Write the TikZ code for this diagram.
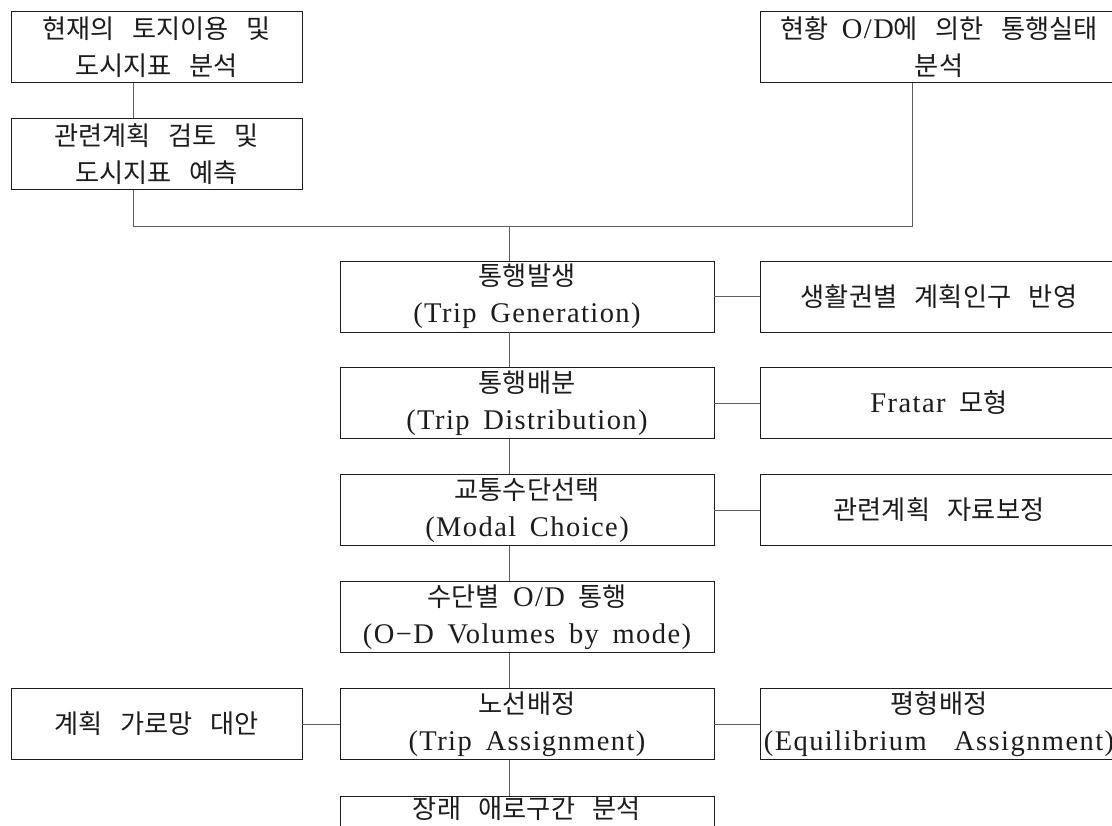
\documentclass[tikz,border=0pt]{standalone}
\usepackage{fontspec}
\setmainfont{Liberation Serif}[LetterSpace=5,WordSpace=1.6]
\newfontfamily\kr{Noto Sans CJK KR}[Scale=0.92,WordSpace=3]
\newcommand\kor[1]{{\kr #1}}
\usetikzlibrary{positioning}
\definecolor{linkgray}{HTML}{5E5E5E}
\definecolor{inkblack}{HTML}{1C1C1C}
\tikzset{
  stage/.style={draw=inkblack,line width=0.9pt,minimum width=374pt,minimum height=71pt,
    inner sep=0pt,align=center,text=inkblack,font=\fontsize{28.5}{37}\selectfont},
  sidebox/.style={stage,minimum width=358pt},
  inbox/.style={stage,minimum width=291pt},
  link/.style={draw=linkgray,line width=0.9pt}
}

\begin{document}
\begin{tikzpicture}[x=1pt,y=-1pt]
\useasboundingbox (0,0) rectangle (1112,826);
% ---------- inputs ----------
\node[inbox] (landuse) at (156.5,47) {\kor{현재의 토지이용 및}\\\kor{도시지표 분석}};
\node[inbox] (plans) at (156.5,154) {\kor{관련계획 검토 및}\\\kor{도시지표 예측}};
\node[sidebox] (survey) at (939,47) {\kor{현황} O/D\kor{에 의한 통행실태}\\\kor{분석}};
\coordinate (lefttap) at (133,226);
\coordinate (trunk) at (509,226);
\coordinate (righttap) at (912,226);
% ---------- four-step model ----------
\node[stage] (gen) at (527,296.5) {\kor{통행발생}\\(Trip Generation)};
\node[stage] (dist) at (527,403) {\kor{통행배분}\\(Trip Distribution)};
\node[stage] (modal) at (527,510) {\kor{교통수단선택}\\(Modal Choice)};
\node[stage] (odvol) at (527,617) {\kor{수단별} O/D \kor{통행}\\(O−D Volumes by mode)};
\node[stage] (assign) at (527,724) {\kor{노선배정}\\(Trip Assignment)};
\node[stage] (future) at (527,831.5) {\kor{장래 애로구간 분석}\\\strut};
% ---------- side conditions ----------
\node[sidebox] (popul) at (939,296.5) {\kor{생활권별 계획인구 반영}};
\node[sidebox] (fratar) at (939,403) {Fratar \kor{모형}};
\node[sidebox] (calib) at (939,510) {\kor{관련계획 자료보정}};
\node[sidebox] (equil) at (939,724) {\kor{평형배정}\\(Equilibrium\ \ Assignment)};
\node[inbox] (network) at (156.5,724) {\kor{계획 가로망 대안}};
% ---------- connectors ----------
\draw[link] (landuse.south -| lefttap) -- (plans.north -| lefttap);
\draw[link] (plans.south -| lefttap) -- (lefttap) -- (righttap) -- (survey.south -| righttap);
\draw[link] (trunk) -- (gen.north -| trunk);
\foreach \a/\b in {gen/dist,dist/modal,modal/odvol,odvol/assign,assign/future}
  \draw[link] (\a.south -| trunk) -- (\b.north -| trunk);
\foreach \a/\b in {gen/popul,dist/fratar,modal/calib,assign/equil,network/assign}
  \draw[link] (\a) -- (\b);
\end{tikzpicture}
\end{document}
